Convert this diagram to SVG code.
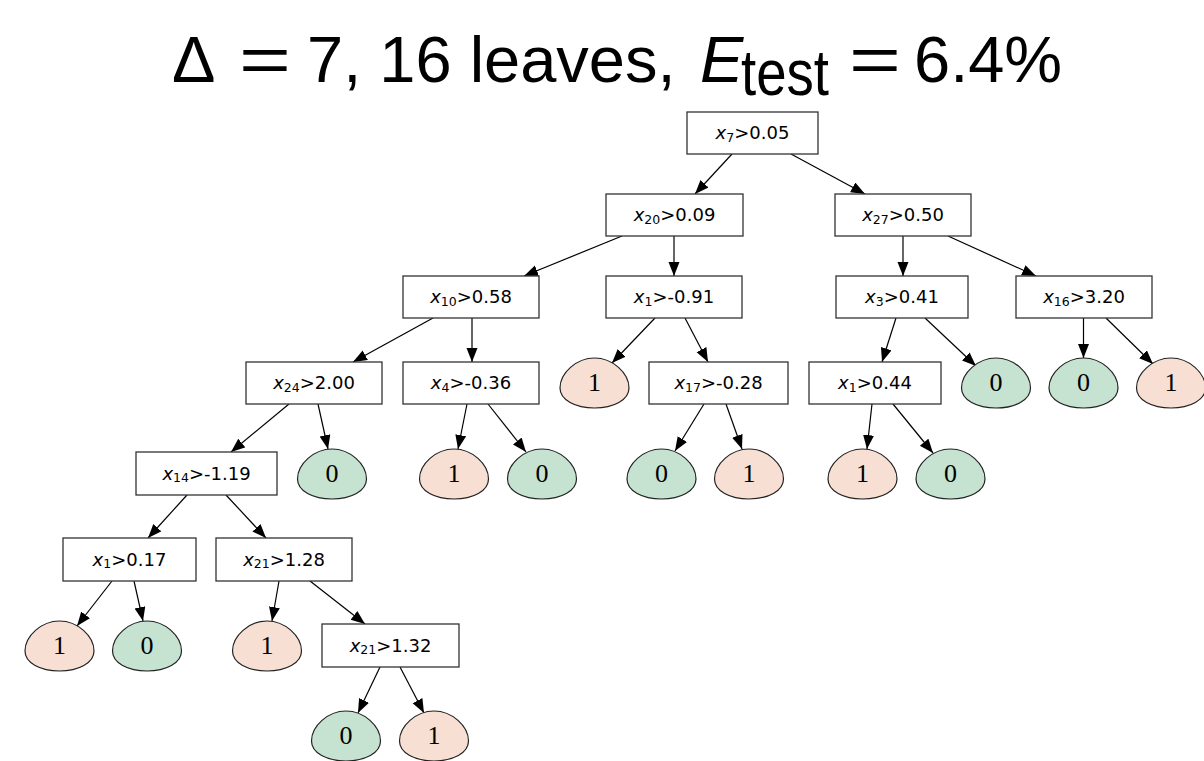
<svg xmlns="http://www.w3.org/2000/svg" width="1204" height="761" viewBox="0 0 1204 761">
<style>
.title{font-family:"Liberation Sans",Arial,sans-serif;font-size:65px;fill:#000}
.box rect{fill:#fff;stroke:#333;stroke-width:1.3}
.box text{font-family:"DejaVu Sans",sans-serif;font-size:18px;fill:#000;text-anchor:middle}
.v{font-style:italic}
.s{font-size:12.5px}
.leaf use{stroke:#222;stroke-width:1.2}
.leaf text{font-family:"Liberation Serif","Times New Roman",serif;font-size:26px;fill:#000;text-anchor:middle}
.c1 use{fill:#f7e0d3}
.c0 use{fill:#c5e3d0}
#edges line{stroke:#000;stroke-width:1.2;marker-end:url(#arr)}
</style>
<defs>
<marker id="arr" markerUnits="userSpaceOnUse" markerWidth="15" markerHeight="12" refX="14" refY="5.5" orient="auto">
<path d="M0,0 L14,5.5 L0,11 Z" fill="#000"/>
</marker>
<path id="egg" d="M0,-25 C18,-25 34.5,-10 34.5,5 C34.5,17 19,25 0,25 C-19,25 -34.5,17 -34.5,5 C-34.5,-10 -18,-25 0,-25 Z"/>
</defs>
<rect width="1204" height="761" fill="#fff"/>
<g id="title">
<text class="title" x="172" y="82">Δ</text>
<text class="title" x="239" y="82" textLength="52" lengthAdjust="spacingAndGlyphs">=</text>
<text class="title" x="307" y="82">7, 16 leaves,</text>
<text class="title" x="700" y="82" font-style="italic">E</text>
<text class="title" x="741" y="95" font-size="58" textLength="88" lengthAdjust="spacingAndGlyphs">test</text>
<text class="title" x="849" y="82" textLength="52" lengthAdjust="spacingAndGlyphs">=</text>
<text class="title" x="914" y="82">6.4%</text>
</g>
<g id="edges">
<line x1="732" y1="154" x2="695" y2="194"/>
<line x1="791" y1="154" x2="865" y2="194"/>
<line x1="622" y1="236" x2="524" y2="276"/>
<line x1="674" y1="236" x2="674" y2="276"/>
<line x1="903" y1="236" x2="903" y2="276"/>
<line x1="948" y1="236" x2="1036" y2="276"/>
<line x1="433" y1="318" x2="353" y2="362"/>
<line x1="472" y1="318" x2="472" y2="362"/>
<line x1="655" y1="318" x2="612" y2="363"/>
<line x1="685" y1="318" x2="708" y2="362"/>
<line x1="896" y1="318" x2="882" y2="362"/>
<line x1="925" y1="318" x2="976" y2="366"/>
<line x1="1083.5" y1="318" x2="1083.5" y2="358"/>
<line x1="1106" y1="318" x2="1153" y2="364"/>
<line x1="289" y1="404" x2="231" y2="452"/>
<line x1="318" y1="404" x2="328" y2="449"/>
<line x1="467" y1="404" x2="458" y2="449"/>
<line x1="488" y1="404" x2="526" y2="452"/>
<line x1="704" y1="404" x2="675" y2="451"/>
<line x1="726" y1="404" x2="742" y2="449"/>
<line x1="872" y1="404" x2="867" y2="449"/>
<line x1="893" y1="404" x2="933" y2="453"/>
<line x1="187" y1="495" x2="148" y2="538"/>
<line x1="226" y1="495" x2="266" y2="538"/>
<line x1="112" y1="581" x2="77" y2="626"/>
<line x1="134" y1="581" x2="143" y2="621"/>
<line x1="279" y1="581" x2="272" y2="621"/>
<line x1="310" y1="581" x2="365" y2="624"/>
<line x1="380" y1="667" x2="358" y2="713"/>
<line x1="400" y1="667" x2="424" y2="713"/>
</g>
<g id="n0" class="box"><rect x="687" y="112" width="131" height="42"/><text x="752.5" y="139"><tspan class="v">x</tspan><tspan class="s" dy="2.5">7</tspan><tspan dy="-2.5">&gt;0.05</tspan></text></g>
<g id="n1" class="box"><rect x="606" y="194" width="137" height="42"/><text x="674.5" y="221"><tspan class="v">x</tspan><tspan class="s" dy="2.5">20</tspan><tspan dy="-2.5">&gt;0.09</tspan></text></g>
<g id="n2" class="box"><rect x="835" y="194" width="136" height="42"/><text x="903" y="221"><tspan class="v">x</tspan><tspan class="s" dy="2.5">27</tspan><tspan dy="-2.5">&gt;0.50</tspan></text></g>
<g id="n3" class="box"><rect x="403" y="276" width="136" height="42"/><text x="471" y="303"><tspan class="v">x</tspan><tspan class="s" dy="2.5">10</tspan><tspan dy="-2.5">&gt;0.58</tspan></text></g>
<g id="n4" class="box"><rect x="606" y="276" width="136" height="42"/><text x="674" y="303"><tspan class="v">x</tspan><tspan class="s" dy="2.5">1</tspan><tspan dy="-2.5">&gt;-0.91</tspan></text></g>
<g id="n5" class="box"><rect x="836" y="276" width="132" height="42"/><text x="902" y="303"><tspan class="v">x</tspan><tspan class="s" dy="2.5">3</tspan><tspan dy="-2.5">&gt;0.41</tspan></text></g>
<g id="n6" class="box"><rect x="1016" y="276" width="136" height="42"/><text x="1084" y="303"><tspan class="v">x</tspan><tspan class="s" dy="2.5">16</tspan><tspan dy="-2.5">&gt;3.20</tspan></text></g>
<g id="n7" class="box"><rect x="246" y="362" width="136" height="42"/><text x="314" y="389"><tspan class="v">x</tspan><tspan class="s" dy="2.5">24</tspan><tspan dy="-2.5">&gt;2.00</tspan></text></g>
<g id="n8" class="box"><rect x="403" y="362" width="136" height="42"/><text x="471" y="389"><tspan class="v">x</tspan><tspan class="s" dy="2.5">4</tspan><tspan dy="-2.5">&gt;-0.36</tspan></text></g>
<g id="n9" class="box"><rect x="649" y="362" width="139" height="42"/><text x="718.5" y="389"><tspan class="v">x</tspan><tspan class="s" dy="2.5">17</tspan><tspan dy="-2.5">&gt;-0.28</tspan></text></g>
<g id="n10" class="box"><rect x="809" y="362" width="132" height="42"/><text x="875" y="389"><tspan class="v">x</tspan><tspan class="s" dy="2.5">1</tspan><tspan dy="-2.5">&gt;0.44</tspan></text></g>
<g id="n11" class="box"><rect x="136" y="452" width="141" height="43"/><text x="206.5" y="479.5"><tspan class="v">x</tspan><tspan class="s" dy="2.5">14</tspan><tspan dy="-2.5">&gt;-1.19</tspan></text></g>
<g id="n12" class="box"><rect x="63" y="538" width="133" height="43"/><text x="129.5" y="565.5"><tspan class="v">x</tspan><tspan class="s" dy="2.5">1</tspan><tspan dy="-2.5">&gt;0.17</tspan></text></g>
<g id="n13" class="box"><rect x="216" y="538" width="136" height="43"/><text x="284" y="565.5"><tspan class="v">x</tspan><tspan class="s" dy="2.5">21</tspan><tspan dy="-2.5">&gt;1.28</tspan></text></g>
<g id="n14" class="box"><rect x="322" y="624" width="137" height="43"/><text x="390.5" y="651.5"><tspan class="v">x</tspan><tspan class="s" dy="2.5">21</tspan><tspan dy="-2.5">&gt;1.32</tspan></text></g>
<g id="l0" class="leaf c1"><use href="#egg" x="594.5" y="383"/><text x="594.5" y="391">1</text></g>
<g id="l1" class="leaf c0"><use href="#egg" x="996" y="383"/><text x="996" y="391">0</text></g>
<g id="l2" class="leaf c0"><use href="#egg" x="1083.5" y="383"/><text x="1083.5" y="391">0</text></g>
<g id="l3" class="leaf c1"><use href="#egg" x="1171" y="383"/><text x="1171" y="391">1</text></g>
<g id="l4" class="leaf c0"><use href="#egg" x="332" y="474"/><text x="332" y="482">0</text></g>
<g id="l5" class="leaf c1"><use href="#egg" x="454" y="474"/><text x="454" y="482">1</text></g>
<g id="l6" class="leaf c0"><use href="#egg" x="542" y="474"/><text x="542" y="482">0</text></g>
<g id="l7" class="leaf c0"><use href="#egg" x="661.5" y="474"/><text x="661.5" y="482">0</text></g>
<g id="l8" class="leaf c1"><use href="#egg" x="749" y="474"/><text x="749" y="482">1</text></g>
<g id="l9" class="leaf c1"><use href="#egg" x="862.5" y="474"/><text x="862.5" y="482">1</text></g>
<g id="l10" class="leaf c0"><use href="#egg" x="950.5" y="474"/><text x="950.5" y="482">0</text></g>
<g id="l11" class="leaf c1"><use href="#egg" x="59.5" y="646"/><text x="59.5" y="654">1</text></g>
<g id="l12" class="leaf c0"><use href="#egg" x="147" y="646"/><text x="147" y="654">0</text></g>
<g id="l13" class="leaf c1"><use href="#egg" x="267" y="646"/><text x="267" y="654">1</text></g>
<g id="l14" class="leaf c0"><use href="#egg" x="346" y="736"/><text x="346" y="744">0</text></g>
<g id="l15" class="leaf c1"><use href="#egg" x="434" y="736"/><text x="434" y="744">1</text></g>
</svg>
